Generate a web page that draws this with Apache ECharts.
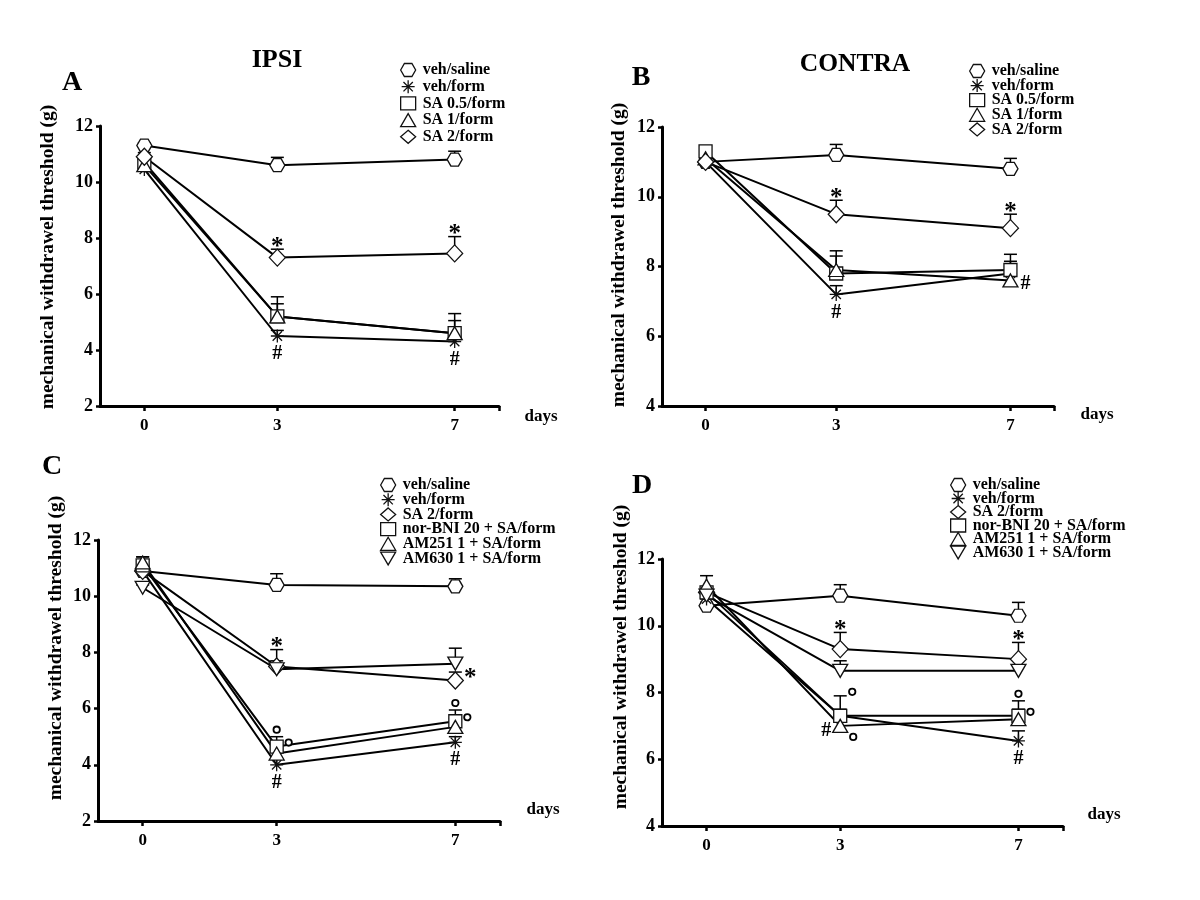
<!DOCTYPE html>
<html><head><meta charset="utf-8">
<script src="https://cdn.jsdelivr.net/npm/echarts@6/dist/echarts.min.js"></script>
<style>html,body{margin:0;padding:0;background:#fff}#c{width:1200px;height:900px}</style>
</head><body><div id="c"></div>
<script>
// ---------- data ----------
const days = [0, 3, 7];
const xTickValues = [0, 3, 7, 8];
const xLabelValues = [0, 3, 7];

const namesAB = ['veh/saline', 'veh/form', 'SA 0.5/form', 'SA 1/form', 'SA 2/form'];
const namesCD = ['veh/saline', 'veh/form', 'SA 2/form', 'nor-BNI 20 + SA/form', 'AM251 1 + SA/form', 'AM630 1 + SA/form'];

// Panel A (IPSI)
const A_vehSaline = [11.3, 10.6, 10.8];   const A_vehSaline_sem = [0.1, 0.28, 0.3];
const A_vehForm   = [10.45, 4.5, 4.3];    const A_vehForm_sem   = [0.1, 0.2, 0.15];
const A_SA05      = [10.7, 5.2, 4.6];     const A_SA05_sem      = [0.2, 0.7, 0.7];
const A_SA1       = [10.6, 5.2, 4.6];     const A_SA1_sem       = [0.2, 0.45, 0.45];
const A_SA2       = [10.9, 7.3, 7.45];    const A_SA2_sem       = [0.15, 0.3, 0.6];
// Panel B (CONTRA)
const B_vehSaline = [11.0, 11.2, 10.8];   const B_vehSaline_sem = [0.1, 0.3, 0.3];
const B_vehForm   = [11.0, 7.2, 7.8];     const B_vehForm_sem   = [0.1, 0.25, 0.2];
const B_SA05      = [11.3, 7.8, 7.9];     const B_SA05_sem      = [0.15, 0.65, 0.45];
const B_SA1       = [11.1, 7.9, 7.6];     const B_SA1_sem       = [0.1, 0.4, 0.55];
const B_SA2       = [11.0, 9.5, 9.1];     const B_SA2_sem       = [0.1, 0.4, 0.4];
// Panel C (IPSI, antagonists)
const C_vehSaline = [10.9, 10.4, 10.35];  const C_vehSaline_sem = [0.1, 0.4, 0.27];
const C_vehForm   = [10.9, 4.0, 4.8];     const C_vehForm_sem   = [0.1, 0.2, 0.2];
const C_SA2       = [10.9, 7.5, 7.0];     const C_SA2_sem       = [0.1, 0.6, 0.3];
const C_norBNI    = [11.1, 4.65, 5.55];   const C_norBNI_sem    = [0.3, 0.35, 0.4];
const C_AM251     = [11.2, 4.4, 5.35];    const C_AM251_sem     = [0.2, 0.3, 0.3];
const C_AM630     = [10.3, 7.4, 7.6];     const C_AM630_sem     = [0.1, 0.3, 0.55];
// Panel D (CONTRA, antagonists)
const D_vehSaline = [10.6, 10.9, 10.3];   const D_vehSaline_sem = [0.1, 0.33, 0.4];
const D_vehForm   = [10.8, 7.3, 6.55];    const D_vehForm_sem   = [0.1, 0.2, 0.3];
const D_SA2       = [11.0, 9.3, 9.0];     const D_SA2_sem       = [0.1, 0.5, 0.5];
const D_norBNI    = [11.0, 7.3, 7.3];     const D_norBNI_sem    = [0.15, 0.6, 0.45];
const D_AM251     = [11.2, 7.0, 7.2];     const D_AM251_sem     = [0.3, 0.3, 0.3];
const D_AM630     = [10.9, 8.65, 8.65];   const D_AM630_sem     = [0.1, 0.3, 0.3];

const panelSeries = [
  [[namesAB[0], A_vehSaline, A_vehSaline_sem], [namesAB[1], A_vehForm, A_vehForm_sem], [namesAB[2], A_SA05, A_SA05_sem], [namesAB[3], A_SA1, A_SA1_sem], [namesAB[4], A_SA2, A_SA2_sem]],
  [[namesAB[0], B_vehSaline, B_vehSaline_sem], [namesAB[1], B_vehForm, B_vehForm_sem], [namesAB[2], B_SA05, B_SA05_sem], [namesAB[3], B_SA1, B_SA1_sem], [namesAB[4], B_SA2, B_SA2_sem]],
  [[namesCD[0], C_vehSaline, C_vehSaline_sem], [namesCD[1], C_vehForm, C_vehForm_sem], [namesCD[2], C_SA2, C_SA2_sem], [namesCD[3], C_norBNI, C_norBNI_sem], [namesCD[4], C_AM251, C_AM251_sem], [namesCD[5], C_AM630, C_AM630_sem]],
  [[namesCD[0], D_vehSaline, D_vehSaline_sem], [namesCD[1], D_vehForm, D_vehForm_sem], [namesCD[2], D_SA2, D_SA2_sem], [namesCD[3], D_norBNI, D_norBNI_sem], [namesCD[4], D_AM251, D_AM251_sem], [namesCD[5], D_AM630, D_AM630_sem]]
];

// significance marks: which series/day they belong to (anchor = point or top of error bar)
const A_marks = [
  {s: 'SA 2/form', day: 3, at: 'cap', mark: '*'}, {s: 'SA 2/form', day: 7, at: 'cap', mark: '*'},
  {s: 'veh/form', day: 3, at: 'point', mark: '#'}, {s: 'veh/form', day: 7, at: 'point', mark: '#'}
];
const B_marks = [
  {s: 'SA 2/form', day: 3, at: 'cap', mark: '*'}, {s: 'SA 2/form', day: 7, at: 'cap', mark: '*'},
  {s: 'veh/form', day: 3, at: 'point', mark: '#'}, {s: 'SA 1/form', day: 7, at: 'point', mark: '#', side: 'right'}
];
const C_marks = [
  {s: 'SA 2/form', day: 3, at: 'cap', mark: '*'}, {s: 'SA 2/form', day: 7, at: 'point', mark: '*', side: 'right'},
  {s: 'veh/form', day: 3, at: 'point', mark: '#'}, {s: 'veh/form', day: 7, at: 'point', mark: '#'},
  {s: 'nor-BNI 20 + SA/form', day: 3, at: 'cap', mark: 'o'}, {s: 'nor-BNI 20 + SA/form', day: 3, at: 'point', mark: 'o', side: 'right'},
  {s: 'nor-BNI 20 + SA/form', day: 7, at: 'cap', mark: 'o'}, {s: 'nor-BNI 20 + SA/form', day: 7, at: 'point', mark: 'o', side: 'right'}
];
const D_marks = [
  {s: 'SA 2/form', day: 3, at: 'cap', mark: '*'}, {s: 'SA 2/form', day: 7, at: 'cap', mark: '*'},
  {s: 'AM251 1 + SA/form', day: 3, at: 'point', mark: '#', side: 'left'}, {s: 'veh/form', day: 7, at: 'point', mark: '#'},
  {s: 'nor-BNI 20 + SA/form', day: 3, at: 'cap', mark: 'o', side: 'right'}, {s: 'AM251 1 + SA/form', day: 3, at: 'point', mark: 'o', side: 'belowright'},
  {s: 'nor-BNI 20 + SA/form', day: 7, at: 'cap', mark: 'o'}, {s: 'nor-BNI 20 + SA/form', day: 7, at: 'point', mark: 'o', side: 'right'}
];
const panelMarks = [A_marks, B_marks, C_marks, D_marks];

// ---------- styles / layout ----------
const SERIF = '"Liberation Serif", "Times New Roman", serif';
const HEX = 'path://M-1,0 L-0.5,-0.866 L0.5,-0.866 L1,0 L0.5,0.866 L-0.5,0.866 Z';
const AST = 'path://M0,-1 L0,1 M-1,0 L1,0 M-0.72,-0.72 L0.72,0.72 M-0.72,0.72 L0.72,-0.72';
const DOWN = 'path://M-1,-0.85 L1,-0.85 L0,0.85 Z';
const SYM = {
  'veh/saline': [HEX, [15, 13]], 'veh/form': [AST, [13, 13]], 'SA 0.5/form': ['rect', [13, 13]],
  'SA 1/form': ['triangle', [15, 13]], 'SA 2/form': ['diamond', [16, 17]],
  'nor-BNI 20 + SA/form': ['rect', [13, 13]], 'AM251 1 + SA/form': ['triangle', [15, 13]], 'AM630 1 + SA/form': [DOWN, [15, 13]]
};
const grids = [
  {left: 100, top: 126, width: 399, height: 280},
  {left: 662, top: 127, width: 392, height: 279},
  {left: 98, top: 540, width: 402, height: 281},
  {left: 662, top: 559, width: 401, height: 267}
];
const yMins = [2, 4, 2, 4];
const markOffsets = {
  '*': {above: [0, -7], right: [15, -7]},
  '#': {below: [0, 18], right: [15, 3], left: [-14, 5]},
  'o': {above: [0, -7], right: [12, -4], belowright: [13, 11]}
};

const option = {
  animation: false,
  backgroundColor: '#fff',
  grid: grids,
  xAxis: grids.map((g, i) => ({
    type: 'value', gridIndex: i, min: -1, max: 8, interval: 1,
    axisLine: {show: true, onZero: false, lineStyle: {color: '#000', width: 3}},
    axisTick: {show: true, length: 5, lineStyle: {color: '#000', width: 2.5}, customValues: xTickValues},
    axisLabel: {show: true, customValues: xLabelValues, margin: 11, color: '#000', fontFamily: SERIF, fontWeight: 'bold', fontSize: 17},
    splitLine: {show: false}
  })),
  yAxis: grids.map((g, i) => ({
    type: 'value', gridIndex: i, min: yMins[i], max: 12, interval: 2,
    axisLine: {show: true, onZero: false, lineStyle: {color: '#000', width: 3}},
    axisTick: {show: true, length: 4, lineStyle: {color: '#000', width: 2.5}},
    axisLabel: {margin: 7, color: '#000', fontFamily: SERIF, fontWeight: 'bold', fontSize: 18},
    splitLine: {show: false}
  })),
  legend: [
    {names: namesAB, left: 400, top: 62, gap: 0.7},
    {names: namesAB, left: 969, top: 63, gap: -1.4},
    {names: namesCD, left: 380, top: 477, gap: -1.3},
    {names: namesCD, left: 950, top: 477, gap: -2.5}
  ].map(l => ({
    orient: 'vertical', left: l.left, top: l.top, itemGap: l.gap, itemWidth: 15, itemHeight: 13,
    selectedMode: false, padding: 0,
    data: l.names.map(n => ({name: n, icon: SYM[n][0]})),
    itemStyle: {color: '#fff', borderColor: '#111', borderWidth: 1.3},
    textStyle: {fontFamily: SERIF, fontWeight: 'bold', fontSize: 16, color: '#000', padding: [0, 0, 0, 2]}
  })),
  graphic: [],
  series: []
};

// titles & letters
const txt = (x, y, text, size, extra) => Object.assign({
  type: 'text', x: x, y: y, silent: true,
  style: {text: text, font: 'bold ' + size + 'px ' + SERIF, fill: '#000', align: 'center', verticalAlign: 'middle'}
}, extra || {});
const yTitle = 'mechanical withdrawel threshold (g)';
option.graphic.push(
  txt(277, 60, 'IPSI', 26), txt(855, 64, 'CONTRA', 25.5),
  txt(72, 83, 'A', 28), txt(641, 78, 'B', 28), txt(52, 467, 'C', 28), txt(642, 486, 'D', 28),
  txt(48, 257, yTitle, 19.5, {rotation: Math.PI / 2}),
  txt(619, 255, yTitle, 19.5, {rotation: Math.PI / 2}),
  txt(56, 648, yTitle, 19.5, {rotation: Math.PI / 2}),
  txt(621, 657, yTitle, 19.5, {rotation: Math.PI / 2}),
  txt(541, 417, 'days', 17), txt(1097, 415, 'days', 17), txt(543, 810, 'days', 17), txt(1104, 815, 'days', 17)
);

panelSeries.forEach((list, p) => {
  // error bars (SEM, upward only)
  const errData = [];
  list.forEach(([name, vals, sem]) => days.forEach((d, k) => errData.push([d, vals[k], sem[k]])));
  option.series.push({
    type: 'custom', name: 'sem' + p, xAxisIndex: p, yAxisIndex: p, z: 2, silent: true,
    data: errData,
    renderItem: (params, api) => {
      const x = api.value(0), v = api.value(1), e = api.value(2);
      const p0 = api.coord([x, v]), p1 = api.coord([x, v + e]);
      return {type: 'group', children: [
        {type: 'line', shape: {x1: p0[0], y1: p0[1], x2: p1[0], y2: p1[1]}, style: {stroke: '#000', lineWidth: 1.5}},
        {type: 'line', shape: {x1: p1[0] - 6.5, y1: p1[1], x2: p1[0] + 6.5, y2: p1[1]}, style: {stroke: '#000', lineWidth: 1.5}}
      ]};
    }
  });
  // lines with hollow markers
  list.forEach(([name, vals]) => {
    option.series.push({
      type: 'line', name: name, xAxisIndex: p, yAxisIndex: p, z: 3,
      data: days.map((d, k) => [d, vals[k]]),
      symbol: SYM[name][0], symbolSize: SYM[name][1], showAllSymbol: true,
      lineStyle: {color: '#000', width: 2},
      itemStyle: {color: '#fff', borderColor: '#111', borderWidth: 1.3},
      emphasis: {disabled: true}
    });
  });
  // significance marks
  const marks = panelMarks[p];
  const markData = marks.map(m => {
    const entry = list.find(s => s[0] === m.s);
    const k = days.indexOf(m.day);
    return [m.day, entry[1][k] + (m.at === 'cap' ? entry[2][k] : 0)];
  });
  option.series.push({
    type: 'custom', name: 'marks' + p, xAxisIndex: p, yAxisIndex: p, z: 5, silent: true,
    data: markData,
    renderItem: (params, api) => {
      const m = marks[params.dataIndex];
      const pt = api.coord([api.value(0), api.value(1)]);
      const side = m.side || (m.mark === '#' ? 'below' : 'above');
      const off = markOffsets[m.mark][side];
      const cx = pt[0] + off[0], cy = pt[1] + off[1];
      if (m.mark === 'o') {
        return {type: 'circle', shape: {cx: cx, cy: cy, r: 3.2}, style: {fill: '#fff', stroke: '#000', lineWidth: 1.8}};
      }
      if (m.mark === '*') {
        return {type: 'text', x: cx, y: cy + 5, style: {text: '*', font: 'bold 25px ' + SERIF, fill: '#000', align: 'center', verticalAlign: 'middle'}};
      }
      return {type: 'text', x: cx, y: cy, style: {text: '#', font: 'bold 20px ' + SERIF, fill: '#000', align: 'center', verticalAlign: 'middle'}};
    }
  });
});

const chart = echarts.init(document.getElementById('c'), null, {renderer: 'canvas'});
chart.setOption(option);
</script>
</body></html>
